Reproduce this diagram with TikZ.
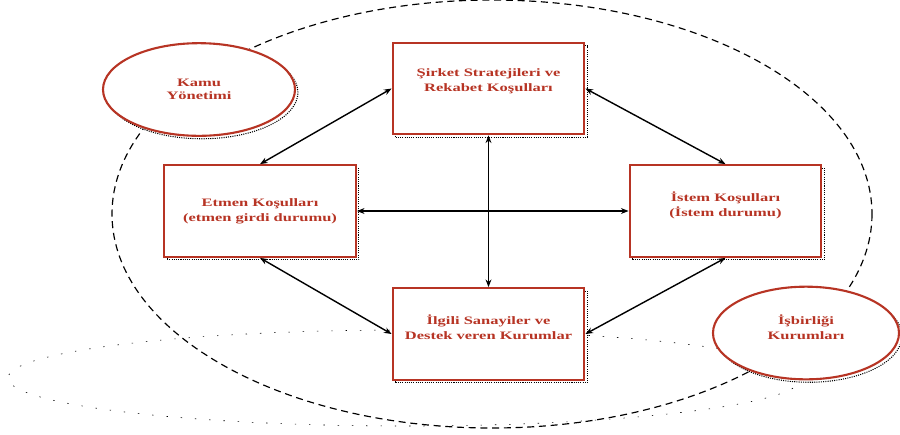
\documentclass[tikz,border=0pt]{standalone}
\usepackage{fontspec}
\newfontfamily\lblfont[FakeStretch=1.45]{Liberation Serif}
\usetikzlibrary{shapes.geometric,shadows,arrows.meta}
\definecolor{rust}{RGB}{183,52,36}

\begin{document}
\begin{tikzpicture}[x=0.03cm,y=-0.03cm,
  box/.style={draw=rust,line width=1.8pt,fill=white,minimum width=5.75cm,minimum height=2.75cm,inner sep=0pt,
    general shadow={shadow xshift=2.5pt,shadow yshift=-2.5pt,draw=black,densely dotted,line width=0.9pt,fill=white}},
  oval/.style={box,ellipse,minimum height=2.78cm},
  txt/.style={text=rust,align=center,font=\lblfont\bfseries\fontsize{9.7}{12.8}\selectfont},
  link/.style={line width=1.2pt,{Stealth[length=6.5pt,width=5pt]}-{Stealth[length=6.5pt,width=5pt]}}]
  \useasboundingbox (0,0) rectangle (900,434);
  \draw[line width=0.5pt,dash pattern=on 1.2pt off 11pt] (405,378) ellipse [x radius=397,y radius=48];
  \draw[line width=1pt,dash pattern=on 6pt off 4pt] (492,214) ellipse [x radius=380,y radius=214];

  \node[oval,minimum width=5.76cm,label={[txt,font=\lblfont\bfseries\fontsize{9.7}{11.5}\selectfont]center:{Kamu\\Yönetimi}}] (kamu) at (199,89.5) {};
  \node[oval,minimum width=5.58cm,label={[txt,yshift=5pt]center:{İşbirliği\\Kurumları}}] (isbirligi) at (806,333) {};

  \node[box,label={[txt,yshift=6pt]center:{Şirket Stratejileri ve\\Rekabet Koşulları}}] (strat) at (488.5,88.5) {};
  \node[box,label={[txt]center:{Etmen Koşulları\\(etmen girdi durumu)}}] (etmen) at (260,211) {};
  \node[box,label={[txt,yshift=5pt]center:{İstem Koşulları\\(İstem durumu)}}] (istem) at (725.5,211) {};
  \node[box,label={[txt,yshift=6pt]center:{İlgili Sanayiler ve\\Destek veren Kurumlar}}] (ilgili) at (488.5,334) {};

  \draw[link] (strat.west) -- (etmen.north);
  \draw[link] (strat.east) -- (istem.north);
  \draw[link] (strat.south) -- (ilgili.north);
  \draw[link] (etmen.east) -- (istem.west);
  \draw[link] (etmen.south) -- (ilgili.west);
  \draw[link] (istem.south) -- (ilgili.east);
\end{tikzpicture}
\end{document}
